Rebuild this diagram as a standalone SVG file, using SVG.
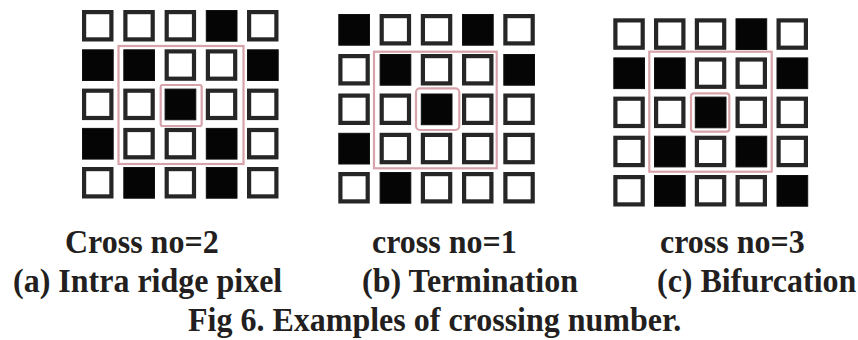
<svg xmlns="http://www.w3.org/2000/svg" width="858" height="340" viewBox="0 0 858 340">
  <style>
    .w { fill: #ffffff; stroke: #262626; stroke-width: 4.2; }
    .b { fill: #050505; stroke: #111111; stroke-width: 1; }
    .red { fill: none; stroke: #d8a2aa; stroke-width: 2.2; }
    .lbl { font-family: "Liberation Serif", "Times New Roman", serif; font-weight: bold; font-size: 32px; fill: #231f20; }
  </style>
  <defs>
    <rect id="wc" class="w" x="2.1" y="2.1" width="27.3" height="27.3"/>
    <rect id="bc" class="b" x="0.5" y="0.5" width="30.7" height="30.7"/>
  </defs>
  <rect width="858" height="340" fill="#ffffff"/>

  <!-- (a) intra ridge pixel: 5x5 neighbourhood -->
  <g id="panel-a">
    <!-- row 1: W W W B W -->
    <use href="#wc" x="82" y="10"/><use href="#wc" x="123.3" y="10"/><use href="#wc" x="164.6" y="10"/><use href="#bc" x="205.8" y="10"/><use href="#wc" x="247" y="10"/>
    <!-- row 2: B B W W B -->
    <use href="#bc" x="82" y="49.3"/><use href="#bc" x="123.3" y="49.3"/><use href="#wc" x="164.6" y="49.3"/><use href="#wc" x="205.8" y="49.3"/><use href="#bc" x="247" y="49.3"/>
    <!-- row 3: W W B W W -->
    <use href="#wc" x="82" y="88.6"/><use href="#wc" x="123.3" y="88.6"/><use href="#bc" x="164.6" y="88.6"/><use href="#wc" x="205.8" y="88.6"/><use href="#wc" x="247" y="88.6"/>
    <!-- row 4: B W W B W -->
    <use href="#bc" x="82" y="127.9"/><use href="#wc" x="123.3" y="127.9"/><use href="#wc" x="164.6" y="127.9"/><use href="#bc" x="205.8" y="127.9"/><use href="#wc" x="247" y="127.9"/>
    <!-- row 5: W B W B W -->
    <use href="#wc" x="82" y="167"/><use href="#bc" x="123.3" y="167"/><use href="#wc" x="164.6" y="167"/><use href="#bc" x="205.8" y="167"/><use href="#wc" x="247" y="167"/>
    <rect class="red" x="118.5" y="46" width="125" height="118"/>
    <rect class="red" x="160.7" y="85" width="41" height="41" rx="2"/>
  </g>

  <!-- (b) termination -->
  <g id="panel-b">
    <!-- row 1: B W W B W -->
    <use href="#bc" x="338.3" y="14"/><use href="#wc" x="379.6" y="14"/><use href="#wc" x="420.8" y="14"/><use href="#bc" x="462" y="14"/><use href="#wc" x="503.3" y="14"/>
    <!-- row 2: W B W W B -->
    <use href="#wc" x="338.3" y="54"/><use href="#bc" x="379.6" y="54"/><use href="#wc" x="420.8" y="54"/><use href="#wc" x="462" y="54"/><use href="#bc" x="503.3" y="54"/>
    <!-- row 3: W W B W W -->
    <use href="#wc" x="338.3" y="93.5"/><use href="#wc" x="379.6" y="93.5"/><use href="#bc" x="420.8" y="93.5"/><use href="#wc" x="462" y="93.5"/><use href="#wc" x="503.3" y="93.5"/>
    <!-- row 4: B W W W W -->
    <use href="#bc" x="338.3" y="132.8"/><use href="#wc" x="379.6" y="132.8"/><use href="#wc" x="420.8" y="132.8"/><use href="#wc" x="462" y="132.8"/><use href="#wc" x="503.3" y="132.8"/>
    <!-- row 5: W B W W W -->
    <use href="#wc" x="338.3" y="172"/><use href="#bc" x="379.6" y="172"/><use href="#wc" x="420.8" y="172"/><use href="#wc" x="462" y="172"/><use href="#wc" x="503.3" y="172"/>
    <rect class="red" x="374" y="51.7" width="122.7" height="116.6"/>
    <rect class="red" x="416" y="88.3" width="43.3" height="41.7" rx="4"/>
  </g>

  <!-- (c) bifurcation -->
  <g id="panel-c">
    <!-- row 1: W W W B W -->
    <use href="#wc" x="613.3" y="18.3"/><use href="#wc" x="654" y="18.3"/><use href="#wc" x="694.8" y="18.3"/><use href="#bc" x="735.5" y="18.3"/><use href="#wc" x="776.5" y="18.3"/>
    <!-- row 2: B B W W B -->
    <use href="#bc" x="613.3" y="57.4"/><use href="#bc" x="654" y="57.4"/><use href="#wc" x="694.8" y="57.4"/><use href="#wc" x="735.5" y="57.4"/><use href="#bc" x="776.5" y="57.4"/>
    <!-- row 3: W W B W W -->
    <use href="#wc" x="613.3" y="96.6"/><use href="#wc" x="654" y="96.6"/><use href="#bc" x="694.8" y="96.6"/><use href="#wc" x="735.5" y="96.6"/><use href="#wc" x="776.5" y="96.6"/>
    <!-- row 4: W B W B W -->
    <use href="#wc" x="613.3" y="135.7"/><use href="#bc" x="654" y="135.7"/><use href="#wc" x="694.8" y="135.7"/><use href="#bc" x="735.5" y="135.7"/><use href="#wc" x="776.5" y="135.7"/>
    <!-- row 5: W B W W B -->
    <use href="#wc" x="613.3" y="175"/><use href="#bc" x="654" y="175"/><use href="#wc" x="694.8" y="175"/><use href="#wc" x="735.5" y="175"/><use href="#bc" x="776.5" y="175"/>
    <rect class="red" x="649.3" y="51.7" width="122.4" height="120"/>
    <rect class="red" x="691" y="93.3" width="38.3" height="38.4" rx="3"/>
  </g>

  <!-- captions: Times-style bold, slightly tall -->
  <g id="captions">
    <text class="lbl" transform="translate(65 253) scale(1 1.08)">Cross no=2</text>
    <text class="lbl" transform="translate(372 253) scale(1 1.08)">cross no=1</text>
    <text class="lbl" transform="translate(660 253) scale(1 1.08)">cross no=3</text>
    <text class="lbl" transform="translate(13 292) scale(1 1.08)">(a) Intra ridge pixel</text>
    <text class="lbl" transform="translate(362 292) scale(1 1.08)">(b) Termination</text>
    <text class="lbl" transform="translate(657 292) scale(1 1.08)">(c) Bifurcation</text>
    <text class="lbl" transform="translate(188 331) scale(1 1.08)">Fig 6. Examples of crossing number.</text>
  </g>
</svg>
